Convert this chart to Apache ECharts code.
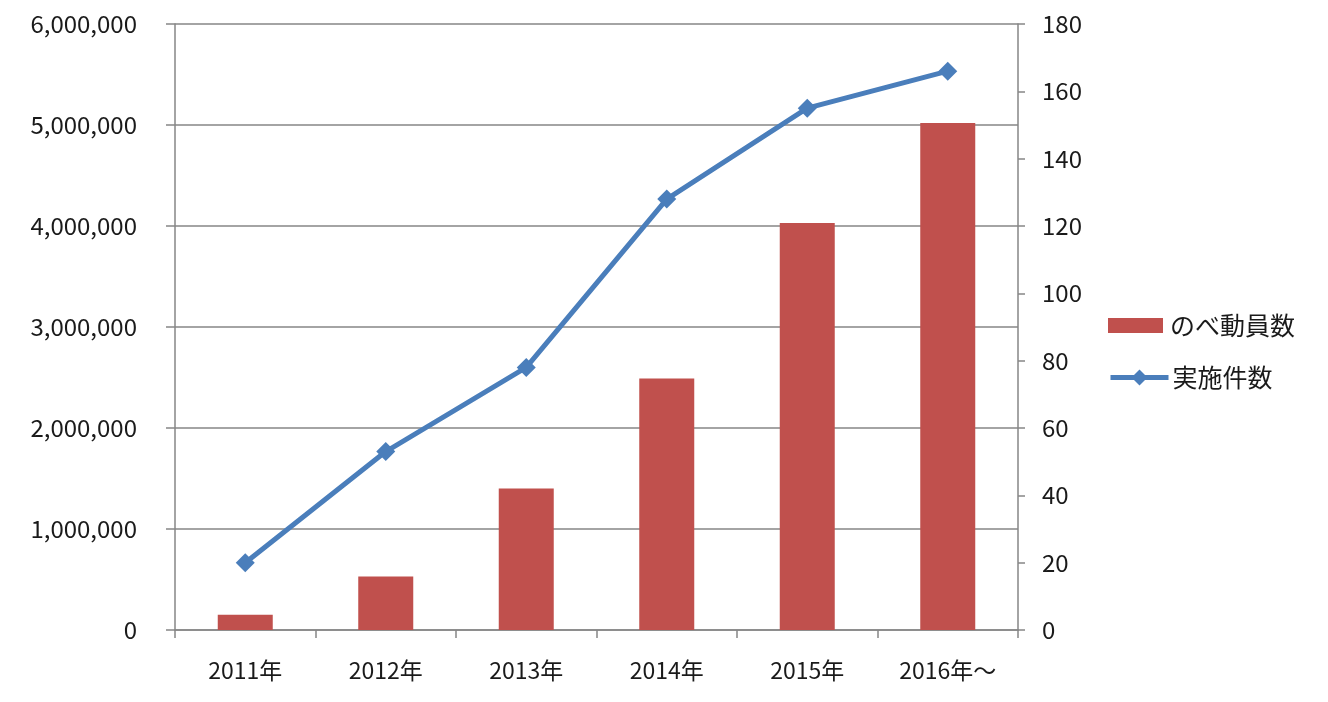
<!DOCTYPE html>
<html>
<head>
<meta charset="utf-8">
<script src="https://cdn.jsdelivr.net/npm/echarts@6/dist/echarts.min.js"></script>
<style>
html,body{margin:0;padding:0;background:#fff;}
#chart{width:1328px;height:702px;}
</style>
</head>
<body>
<div id="chart"></div>
<script>
const categories = ['2011年', '2012年', '2013年', '2014年', '2015年', '2016年～'];
const participants = [150000, 530000, 1400000, 2490000, 4030000, 5020000];
const eventCounts = [20, 53, 78, 128, 155, 166];
const seriesNames = ['のべ動員数', '実施件数'];

const FONT = '"Noto Sans CJK JP", "Noto Sans", sans-serif';
const TXT = '#1a1a1a';
const GRID = '#868686';
const BAR = '#C0504D';
const LINE = '#4A7EBB';

const chart = echarts.init(document.getElementById('chart'), null, {renderer: 'canvas'});
chart.setOption({
  animation: false,
  backgroundColor: '#ffffff',
  textStyle: {fontFamily: FONT},
  grid: {left: 175, right: 310, top: 24, bottom: 72, containLabel: false},
  legend: [
    {
      orient: 'vertical',
      left: 1108,
      top: 313,
      padding: 0,
      itemWidth: 55,
      itemHeight: 15,
      textStyle: {fontFamily: FONT, fontSize: 25, color: TXT, padding: [0, 0, 0, 2]},
      data: [{name: seriesNames[0], icon: 'rect'}]
    },
    {
      orient: 'vertical',
      left: 1108,
      top: 365,
      padding: 0,
      itemWidth: 58,
      itemHeight: 20,
      lineStyle: {width: 5, color: LINE},
      textStyle: {fontFamily: FONT, fontSize: 25, color: TXT, padding: [0, 0, 0, -1]},
      data: [{name: seriesNames[1]}]
    }
  ],
  xAxis: {
    type: 'category',
    data: categories,
    boundaryGap: true,
    axisLine: {show: true, lineStyle: {color: GRID, width: 1.5}},
    axisTick: {show: true, length: 8, alignWithLabel: false, lineStyle: {color: GRID, width: 1.5}},
    axisLabel: {fontFamily: FONT, fontSize: 23, color: TXT, margin: 29}
  },
  yAxis: [
    {
      type: 'value',
      min: 0, max: 6000000, interval: 1000000,
      position: 'left',
      axisLine: {show: true, lineStyle: {color: GRID, width: 1.5}},
      axisTick: {show: true, inside: false, length: 9, lineStyle: {color: GRID, width: 1.5}},
      splitLine: {show: true, lineStyle: {color: GRID, width: 1.5}},
      axisLabel: {
        fontFamily: FONT, fontSize: 24, color: TXT, margin: 38,
        formatter: v => v.toLocaleString('en-US')
      }
    },
    {
      type: 'value',
      min: 0, max: 180, interval: 20,
      position: 'right',
      axisLine: {show: true, lineStyle: {color: GRID, width: 1.5}},
      axisTick: {show: true, inside: false, length: 7, lineStyle: {color: GRID, width: 1.5}},
      splitLine: {show: false},
      axisLabel: {fontFamily: FONT, fontSize: 24, color: TXT, margin: 24}
    }
  ],
  series: [
    {
      name: seriesNames[0],
      type: 'bar',
      yAxisIndex: 0,
      data: participants,
      barWidth: 55,
      itemStyle: {color: BAR},
      z: 2
    },
    {
      name: seriesNames[1],
      type: 'line',
      yAxisIndex: 1,
      data: eventCounts,
      symbol: 'diamond',
      symbolSize: 19,
      lineStyle: {color: LINE, width: 5},
      itemStyle: {color: LINE},
      z: 3
    }
  ]
});
</script>
</body>
</html>
